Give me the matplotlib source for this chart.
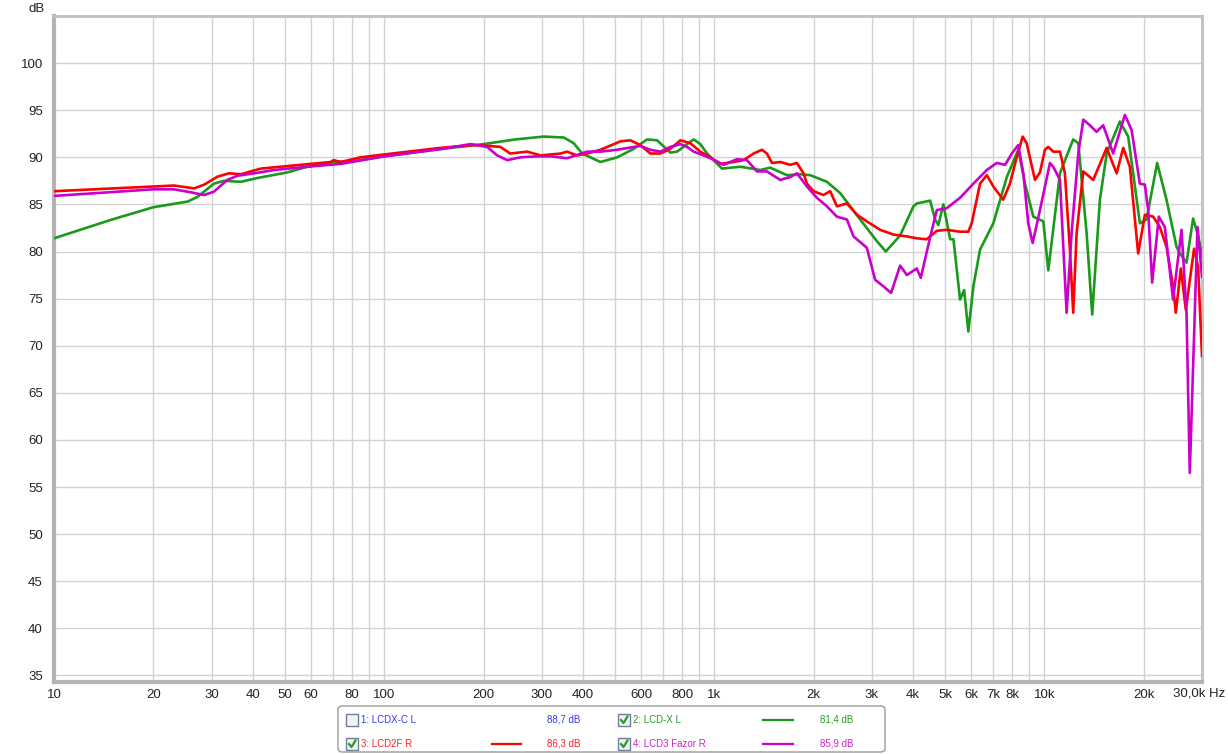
import numpy as np
import matplotlib
matplotlib.use("Agg")
import matplotlib.pyplot as plt
from matplotlib.patches import FancyBboxPatch, Rectangle
from matplotlib.lines import Line2D

plt.rcParams['font.family'] = ['Liberation Sans', 'DejaVu Sans']

# ---- data (Hz, dB) ----
green_f = [10, 15, 20, 25.4, 27.2, 30.5, 32.7, 36.8, 41.3, 50.9, 58.6, 70.3, 81, 100, 150, 200,
           250, 304, 350, 375, 398, 452, 508, 570, 626, 671, 736, 771, 827, 866, 907, 951,
           1055, 1198, 1378, 1477, 1660, 1820, 1952, 2193, 2406, 2766, 3107, 3307, 3654,
           4010, 4105, 4505, 4665, 4770, 4940, 5180, 5300, 5550, 5710, 5880, 6090, 6380,
           7000, 7690, 8330, 8730, 9250, 9920, 10270, 11140, 12220, 12660, 13420, 13950,
           14720, 15430, 16920, 17930, 19450, 20380, 21940, 23420, 25120, 25700, 26930,
           28190, 29300, 30000]
green_db = [81.4, 83.4, 84.7, 85.3, 85.8, 87.2, 87.5, 87.4, 87.8, 88.4, 89.0, 89.5, 89.6, 90.1, 90.9, 91.4,
            91.9, 92.2, 92.1, 91.5, 90.4, 89.5, 90.0, 90.9, 91.9, 91.8, 90.5, 90.6, 91.4, 91.9, 91.4, 90.4,
            88.8, 89.0, 88.65, 88.9, 88.1, 88.2, 88.1, 87.4, 86.2, 83.4, 81.1, 80.0, 81.7,
            84.8, 85.1, 85.4, 83.4, 82.8, 85.0, 81.3, 81.3, 74.9, 75.9, 71.5, 76.3, 80.2,
            83.0, 87.9, 90.8, 87.2, 83.7, 83.2, 78.0, 88.3, 91.9, 91.5, 81.9, 73.3,
            85.5, 90.4, 93.8, 92.2, 83.0, 83.4, 89.4, 85.5, 80.5, 79.8, 78.8,
            83.5, 81.5, 79.5]

red_f = [10, 20, 23.1, 26.6, 28.5, 31.3, 33.9, 36.8, 42.3, 52.1, 68.9, 70.3, 73.9, 84.9, 100, 148,
         187, 210, 225, 241, 271, 298, 342, 358, 384, 412, 452, 520, 557, 597, 640, 687, 736,
         789, 846, 907, 973, 1043, 1144, 1226, 1315, 1394, 1443, 1495, 1584, 1698, 1779, 1863,
         1908, 1998, 2141, 2244, 2351, 2521, 2703, 2897, 3179, 3487, 3830, 4105, 4400, 4720,
         5060, 5550, 5880, 6020, 6380, 6690, 7000, 7500, 7860, 8240, 8590, 8830, 9360, 9690,
         10030, 10270, 10630, 11140, 11530, 11940, 12220, 12510, 13110, 14050, 15430, 16540,
         17320, 18140, 19220, 20140, 21340, 22350, 23420, 24520, 24990, 25880, 26800, 28390,
         29190, 30000]
red_db = [86.4, 86.9, 87.0, 86.7, 87.1, 87.95, 88.3, 88.2, 88.8, 89.1, 89.5, 89.7, 89.5, 90.0, 90.3, 91.0,
          91.3, 91.2, 91.1, 90.4, 90.6, 90.2, 90.4, 90.6, 90.2, 90.4, 90.8, 91.7, 91.8, 91.3, 90.4, 90.4, 90.9,
          91.8, 91.5, 90.6, 90.0, 89.3, 89.5, 89.7, 90.4, 90.8, 90.4, 89.4, 89.5, 89.2, 89.4, 88.3,
          87.2, 86.4, 86.0, 86.4, 84.8, 85.1, 83.9, 83.2, 82.3, 81.8, 81.6, 81.4, 81.3, 82.2,
          82.3, 82.1, 82.1, 83.0, 87.2, 88.1, 86.9, 85.5, 87.2, 90.0, 92.2, 91.5, 87.6, 88.4,
          90.8, 91.1, 90.6, 90.6, 88.3, 80.2, 73.5, 81.9, 88.5, 87.6, 91.0, 88.3,
          91.0, 89.0, 79.8, 83.9, 83.7, 82.6, 80.5, 76.3, 73.5, 78.2, 73.8, 80.3,
          78.4, 68.9]

mag_f = [10, 20, 23.1, 25.4, 28.5, 30.5, 33.5, 36, 40.4, 46.4, 58.6, 73.9, 100, 150, 182.7, 205,
         220, 236, 259, 291, 319, 358, 412, 452, 508, 570, 597, 640, 687, 736, 789, 827, 866,
         928, 973, 1067, 1171, 1256, 1347, 1443, 1584, 1698, 1779, 1908, 2045, 2193, 2351,
         2521, 2640, 2897, 3069, 3253, 3431, 3654, 3830, 4105, 4220, 4505, 4720, 5060, 5550,
         6090, 6690, 7170, 7600, 7960, 8330, 8630, 8930, 9210, 9690, 10390, 10630, 11140,
         11670, 12080, 12660, 13110, 13730, 14380, 15060, 16150, 17520, 18360, 19450, 20140,
         20610, 21190, 22200, 23150, 24520, 26010, 26930, 27550, 29070, 30000]
mag_db = [85.9, 86.6, 86.6, 86.35, 86.0, 86.35, 87.6, 88.05, 88.3, 88.65, 89.0, 89.3, 90.1, 90.9, 91.4, 91.1,
          90.2, 89.7, 90.0, 90.1, 90.1, 89.9, 90.6, 90.6, 90.8, 91.1, 91.2, 90.8, 90.6, 91.1, 91.4, 91.1, 90.6,
          90.2, 89.9, 89.2, 89.8, 89.7, 88.5, 88.5, 87.6, 87.9, 88.3, 86.9, 85.7, 84.8, 83.7,
          83.4, 81.6, 80.4, 77.0, 76.3, 75.6, 78.5, 77.5, 78.2, 77.2, 81.5, 84.4, 84.6, 85.7,
          87.2, 88.65, 89.4, 89.2, 90.4, 91.3, 88.3, 83.0, 80.9, 84.4, 89.4, 89.0, 87.6,
          73.5, 81.9, 90.4, 94.0, 93.4, 92.7, 93.4, 90.4, 94.5, 92.9, 87.2, 87.1,
          84.4, 76.7, 83.7, 82.6, 74.9, 82.3, 73.5, 56.5, 82.6, 77.3]

grid_freqs = [m * 10 ** d for d in range(1, 5) for m in range(1, 10) if m * 10 ** d <= 30000]
label_map = {10: '10', 20: '20', 30: '30', 40: '40', 50: '50', 60: '60', 80: '80', 100: '100',
             200: '200', 300: '300', 400: '400', 600: '600', 800: '800', 1000: '1k',
             2000: '2k', 3000: '3k', 4000: '4k', 5000: '5k', 6000: '6k', 7000: '7k',
             8000: '8k', 10000: '10k', 20000: '20k'}
y_ticks = list(range(35, 101, 5))

legend_rows = [
    ("1: LCDX-C L", "88,7 dB", "#3535ff", False, None),
    ("2: LCD-X L", "81,4 dB", "#22a022", True, "#1a9a1a"),
    ("3: LCD2F R", "86,3 dB", "#ff2020", True, "#ff0000"),
    ("4: LCD3 Fazor R", "85,9 dB", "#cc22cc", True, "#cc00cc"),
]

W, H = 1228, 754
fig = plt.figure(figsize=(W / 100, H / 100), dpi=100)
ax = fig.add_axes([54 / W, 1 - 682 / H, (1202 - 54) / W, (682 - 16) / H])

ax.semilogx(green_f, green_db, color="#1a9a1a", lw=1.9, zorder=3)
ax.semilogx(red_f, red_db, color="#ff0000", lw=1.9, zorder=4)
ax.semilogx(mag_f, mag_db, color="#cc00cc", lw=1.9, zorder=5)

ax.set_xlim(10, 30000)
ax.set_ylim(34.3, 105)
ax.minorticks_off()
ax.set_xticks(grid_freqs)
ax.set_xticklabels([label_map.get(f, '') for f in grid_freqs], fontsize=9.5, color="#222222")
ax.set_yticks(y_ticks)
ax.set_yticklabels([str(v) for v in y_ticks], fontsize=9.5, color="#222222")
ax.tick_params(axis='both', length=0)
ax.tick_params(axis='x', pad=5)
ax.tick_params(axis='y', pad=8)
ax.grid(True, color="#d2d2d2", lw=1.0)
ax.set_axisbelow(True)
for s in ax.spines.values():
    s.set_color("#c4c4c4")
    s.set_linewidth(2.2)
ax.spines['left'].set_color("#b4b4b4")
ax.spines['left'].set_linewidth(3)
ax.spines['bottom'].set_color("#b4b4b4")
ax.spines['bottom'].set_linewidth(3)

fig.text(37 / W, 1 - 9 / H, "dB", fontsize=9.5, ha='center', va='center', color="#222222")
fig.text(1225 / W, 1 - 693 / H, "30,0k Hz", fontsize=9.5, ha='right', va='center', color="#222222")

# ---- legend box ----
fig.patches.append(FancyBboxPatch((338 / W, 1 - 752 / H), (885 - 338) / W, (752 - 706) / H,
                                  boxstyle="round,pad=0,rounding_size=0.004",
                                  transform=fig.transFigure, facecolor="white",
                                  edgecolor="#9a9a9a", lw=1.0))
cols = [(346, 546, 580, 492, 521), (618, 818, 853, 763, 793)]
rows_y = [720, 744]
order = [(0, 0), (0, 1), (1, 0), (1, 1)]
for (r, c), (name, val, tcol, checked, lcol) in zip(order, legend_rows):
    bx, vx0, vx1, lx0, lx1 = cols[c]
    cy = rows_y[r]
    fig.patches.append(Rectangle((bx / W, 1 - (cy + 6) / H), 12 / W, 12 / H,
                                 transform=fig.transFigure, facecolor="#f4f4f4",
                                 edgecolor="#6f7f99", lw=1.0))
    if checked:
        fig.lines.append(Line2D([(bx + 3) / W, (bx + 5.5) / W, (bx + 9.5) / W],
                                [1 - (cy) / H, 1 - (cy + 3) / H, 1 - (cy - 3.5) / H],
                                transform=fig.transFigure, color="#2a9a2a", lw=1.6))
    fig.text((bx + 15) / W, 1 - cy / H, name, fontsize=7, color=tcol, ha='left', va='center')
    fig.text(vx1 / W, 1 - cy / H, val, fontsize=7, color=tcol, ha='right', va='center')
    if lcol:
        fig.lines.append(Line2D([lx0 / W, lx1 / W], [1 - cy / H, 1 - cy / H],
                                transform=fig.transFigure, color=lcol, lw=1.6))

fig.savefig("out.png", dpi=100)
